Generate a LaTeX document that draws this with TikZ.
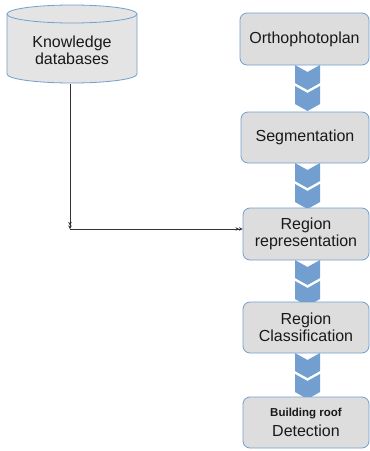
\documentclass[tikz,border=0pt]{standalone}
\usepackage{fontspec}
\setmainfont{Liberation Sans}
\usetikzlibrary{arrows.meta}
\definecolor{lblue}{HTML}{729FCF}
\definecolor{boxgray}{HTML}{DDDDDD}
\definecolor{cylgray}{HTML}{E4E4E4}
\tikzset{
  stepbox/.style={draw=lblue, fill=boxgray, line width=0.8pt, rounded corners=7pt,
    align=center, inner sep=0pt, font=\fontsize{16}{17.5}\selectfont, text=black!90},
  chevron/.pic={\fill[lblue] (0,0) -- (12.5,7) -- (25,0) -- (25,18) -- (12.5,25) -- (0,18) -- cycle;},
  dbl/.style={-{Stealth[length=3.5pt,width=3.5pt]Stealth[length=3.5pt,width=3.5pt]}, line width=0.6pt, black!80}
}
\begin{document}
\begin{tikzpicture}[x=1pt,y=-1pt]
\useasboundingbox (0,0) rectangle (370,451);
% cylinder
\filldraw[draw=lblue, fill=cylgray, line width=0.8pt]
  (7,14) -- (7,74) arc[start angle=180, end angle=0, x radius=65, y radius=9]
  -- (137,14) arc[start angle=0, end angle=-180, x radius=65, y radius=9] -- cycle;
\draw[lblue, line width=0.8pt] (7,14) arc[start angle=180, end angle=0, x radius=65, y radius=9];
\node[align=center, font=\fontsize{16}{17}\selectfont, text=black!90] (kb) at (72,50) {Knowledge\\databases};
\coordinate (kbb) at (70,83.5);
% chevrons
\foreach \y in {65,86,163,184,260,281,353,374} { \pic at (295,\y) {chevron}; }
% boxes
\node[stepbox, minimum width=129pt, minimum height=52pt] (op) at (304.5,39) {Orthophotoplan};
\node[stepbox, minimum width=128pt, minimum height=51pt] (seg) at (305,137.5) {Segmentation};
\node[stepbox, minimum width=126pt, minimum height=52pt] (rr) at (306,234) {Region\\representation};
\node[stepbox, minimum width=126pt, minimum height=51pt] (rc) at (306,327.5) {Region\\Classification};
\node[stepbox, minimum width=126pt, minimum height=51pt] (bd) at (306,422.5)
  {{\bfseries\fontsize{11.5}{13}\selectfont Building roof}\\[3pt]Detection};
% connectors
\coordinate (corner) at (70,229);
\draw[dbl] (kbb) -- (corner);
\draw[dbl] (corner) -- (corner -| rr.west);
\end{tikzpicture}
\end{document}
